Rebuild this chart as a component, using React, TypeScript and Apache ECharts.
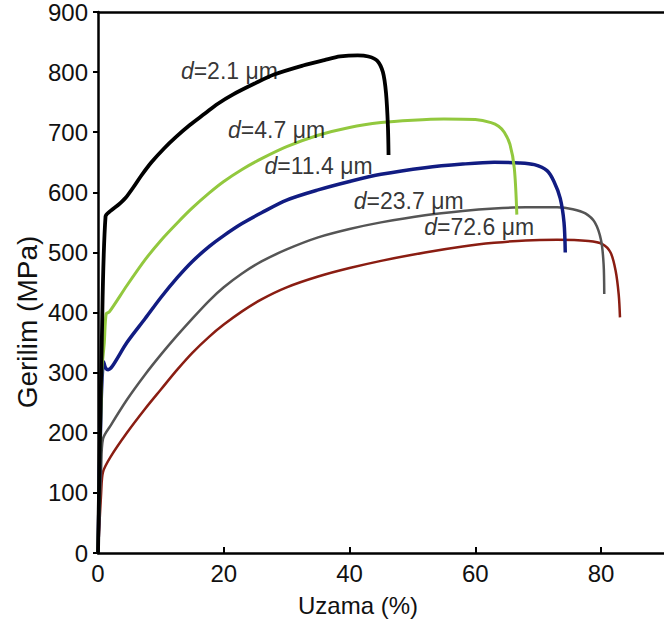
import React, { useEffect, useRef } from "react";
import * as echarts from "echarts";

// Stress–strain curves: [strain %, stress MPa]
const curve21: number[][] = [
  [0, 0], [0.6, 350], [1.2, 560], [2.1, 570], [3.2, 579], [4.4, 591], [5.6, 608], [6.9, 628],
  [8.5, 650], [10.5, 673], [12.5, 693], [14.6, 712], [17, 731], [19, 747], [21.5, 763],
  [24.9, 781], [28, 796], [32.6, 811], [36, 820], [38.5, 826], [41.3, 828], [43, 826],
  [44.4, 819], [45.3, 800], [45.8, 765], [46.1, 710], [46.2, 662],
];
const curve47: number[][] = [
  [0, 0], [0.6, 300], [1.0, 350], [1.3, 398], [1.8, 401], [4.6, 445], [7.5, 488], [10, 520],
  [12.6, 549], [15, 574], [17.7, 599], [20, 618], [22.9, 638], [26, 656], [30, 676],
  [35, 695], [40, 708], [45, 716], [50, 720], [55, 722], [60, 721], [62.5, 716], [63.7, 710],
  [64.6, 700], [65.5, 680], [66.2, 640], [66.6, 563],
];
const curve114: number[][] = [
  [0, 0], [0.5, 250], [0.9, 318], [1.2, 308], [1.6, 305], [2.3, 311], [4.6, 350], [7.5, 390],
  [10, 425], [12.6, 458], [15, 485], [17.7, 510], [20, 528], [22.9, 548], [26, 566], [30, 587],
  [35, 604], [40, 618], [45, 630], [52, 641], [58, 647], [63, 650], [67, 649], [69.4, 646],
  [71.4, 636], [72.5, 618], [73.5, 590], [74.1, 550], [74.3, 500],
];
const curve237: number[][] = [
  [0, 0], [0.5, 140], [0.8, 190], [2, 212], [4.6, 255], [7.5, 297], [10, 330], [12.6, 362],
  [15, 390], [17.7, 420], [20, 442], [22.9, 465], [26, 485], [30, 505], [35, 525], [40, 539],
  [45, 550], [52, 562], [58, 569], [63, 573], [68, 575], [73, 575], [75.5, 572], [77.5, 565],
  [79, 550], [80, 520], [80.4, 480], [80.5, 431],
];
const curve726: number[][] = [
  [0, 0], [0.5, 100], [0.8, 135], [2, 160], [4.6, 200], [7.5, 240], [10, 272], [12.6, 305],
  [15, 333], [17.7, 360], [20, 380], [22.9, 402], [26, 422], [30, 442], [35, 460], [40, 474],
  [45, 486], [52, 500], [58, 510], [63, 516], [68, 520], [73, 521], [78, 519], [80.2, 514],
  [81.5, 500], [82.3, 470], [82.8, 430], [83, 392],
];

const seriesNames = ["d=72.6 μm", "d=23.7 μm", "d=11.4 μm", "d=4.7 μm", "d=2.1 μm"];
const seriesData = [curve726, curve237, curve114, curve47, curve21];
const seriesColors = ["#8a1d12", "#555555", "#111c82", "#92c83e", "#000000"];
const seriesWidths = [2.5, 2.5, 3.5, 3, 3.8];

const labelSizes = ["2.1", "4.7", "11.4", "23.7", "72.6"];
const labelX = [13.1, 20.6, 26.4, 40.6, 51.8];
const labelY = [802, 703, 644, 586, 542];

const xTickValues = [0, 20, 40, 60, 80];
const yTickValues = [0, 100, 200, 300, 400, 500, 600, 700, 800, 900];

const FONT = "'Liberation Sans', Arial, sans-serif";

export default function App() {
  const ref = useRef<HTMLDivElement>(null);
  useEffect(() => {
    if (!ref.current) return;
    const chart = echarts.init(ref.current, undefined, { renderer: "svg" });
    const lineSeries = seriesData.map((d, i) => ({
      name: seriesNames[i],
      type: "line",
      data: d,
      showSymbol: false,
      smooth: 0.3,
      lineStyle: { color: seriesColors[i], width: seriesWidths[i] },
      itemStyle: { color: seriesColors[i] },
      z: 2 + i,
    }));
    chart.setOption({
      animation: false,
      backgroundColor: "#ffffff",
      grid: { left: 98, top: 8, width: 586, height: 545, containLabel: false },
      graphic: [
        {
          type: "text",
          x: 27,
          y: 322,
          rotation: Math.PI / 2,
          style: {
            text: "Gerilim (MPa)",
            fontSize: 28,
            fill: "#111",
            fontFamily: FONT,
            align: "center",
            verticalAlign: "middle",
          },
        },
      ],
      xAxis: [
        {
          type: "value",
          min: 0,
          max: 90,
          interval: 20,
          position: "bottom",
          name: "Uzama (%)",
          nameLocation: "middle",
          nameGap: 40,
          nameTextStyle: { fontSize: 24, color: "#111", fontFamily: FONT, padding: [0, 46, 0, 0] },
          axisLine: { show: true, lineStyle: { color: "#000", width: 2.5 } },
          axisTick: { show: true, inside: true, length: 6, lineStyle: { color: "#000", width: 2 } },
          axisLabel: {
            fontSize: 24,
            color: "#111",
            fontFamily: FONT,
            margin: 8,
            showMaxLabel: false,
            formatter: (v: number) => (xTickValues.includes(v) ? String(v) : ""),
          },
          splitLine: { show: false },
        },
        {
          type: "value",
          min: 0,
          max: 90,
          position: "top",
          axisLine: { show: true, lineStyle: { color: "#000", width: 2.5 } },
          axisTick: { show: false },
          axisLabel: { show: false },
          splitLine: { show: false },
        },
      ],
      yAxis: {
        type: "value",
        min: 0,
        max: 900,
        interval: 100,
        axisLine: { show: true, lineStyle: { color: "#000", width: 2.5 } },
        axisTick: { show: true, inside: false, length: 5, lineStyle: { color: "#000", width: 2 } },
        axisLabel: {
          fontSize: 24,
          color: "#111",
          fontFamily: FONT,
          margin: 10,
          formatter: (v: number) => (yTickValues.includes(v) ? String(v) : ""),
        },
        splitLine: { show: false },
      },
      series: [
        ...lineSeries,
        {
          type: "scatter",
          data: labelX.map((x, i) => [x, labelY[i]]),
          symbolSize: 1,
          itemStyle: { color: "rgba(0,0,0,0)" },
          z: 10,
          label: {
            show: true,
            position: "right",
            distance: 0,
            formatter: (p: any) => `{i|d}{n|=${labelSizes[p.dataIndex]} μm}`,
            rich: {
              i: { fontSize: 23, fontStyle: "italic", color: "#000", fontFamily: FONT },
              n: { fontSize: 23, color: "#000", fontFamily: FONT },
            },
          },
        },
      ],
    });
    return () => chart.dispose();
  }, []);
  return (
    <div
      ref={ref}
      style={{ position: "absolute", left: 0, top: 0, width: 664, height: 632, background: "#fff" }}
    />
  );
}
